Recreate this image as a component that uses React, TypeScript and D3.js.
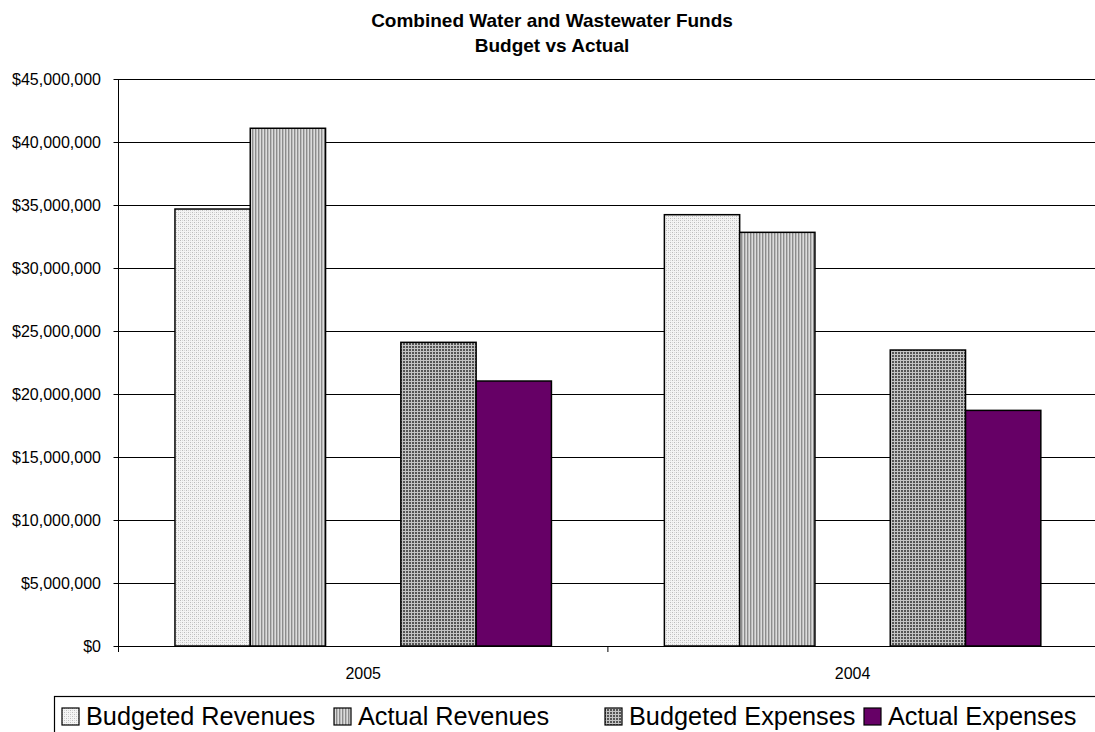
import React from "react";
import * as d3 from "d3";

const title1 = "Combined Water and Wastewater Funds";
const title2 = "Budget vs Actual";
const categories = ["2005", "2004"];
const seriesNames = ["Budgeted Revenues", "Actual Revenues", "", "Budgeted Expenses", "Actual Expenses"];
const budgetedRevenues = [34680000, 34230000];
const actualRevenues = [41090000, 32830000];
const blankSeries: (number | null)[] = [null, null];
const budgetedExpenses = [24100000, 23490000];
const actualExpenses = [21030000, 18700000];
const yTicks = [0, 5000000, 10000000, 15000000, 20000000, 25000000, 30000000, 35000000, 40000000, 45000000];

const seriesValues: (number | null)[][] = [budgetedRevenues, actualRevenues, blankSeries, budgetedExpenses, actualExpenses];
const seriesFills = ["url(#patBR)", "url(#patAR)", "none", "url(#patBE)", "#660066"];

const W = 1095;
const H = 732;
const plotLeft = 118.5;
const plotRight = 1097.3;
const plotTop = 79;
const plotBottom = 646;
const legendItemX = [62, 334, null, 605, 864];
const FONT = "'Liberation Sans', Arial, sans-serif";

export default function App() {
  const x0 = d3.scaleBand<string>().domain(categories).range([plotLeft, plotRight]).padding(0);
  const x1 = d3
    .scaleBand<string>()
    .domain(seriesNames.map((_, i) => String(i)))
    .range([0, x0.bandwidth()])
    .paddingInner(0)
    .paddingOuter(0.75);
  const y = d3.scaleLinear().domain([0, 45000000]).range([plotBottom, plotTop]);
  const fmt = (v: number) => "$" + d3.format(",.0f")(v);

  const catBoundaries = [...categories.map((c) => x0(c) as number), plotRight];

  return (
    <svg
      width={W}
      height={H}
      style={{ position: "absolute", left: 0, top: 0, background: "#fff" }}
      fontFamily={FONT}
    >
      <defs>
        <pattern id="patBR" patternUnits="userSpaceOnUse" width={4} height={4}>
          <rect width={4} height={4} fill="#f4f4f4" />
          <rect x={0} y={0} width={1} height={1} fill="#bcbcbc" />
          <rect x={2} y={2} width={1} height={1} fill="#bcbcbc" />
          <rect x={2} y={0} width={1} height={1} fill="#d8d8d8" />
          <rect x={0} y={2} width={1} height={1} fill="#d8d8d8" />
        </pattern>
        <pattern id="patAR" patternUnits="userSpaceOnUse" width={3} height={3}>
          <rect x={0} width={1} height={3} fill="#8c8c8c" />
          <rect x={1} width={1} height={3} fill="#bcbcbc" />
          <rect x={2} width={1} height={3} fill="#dcdcdc" />
        </pattern>
        <pattern id="patBE" patternUnits="userSpaceOnUse" width={3} height={3}>
          <rect width={3} height={3} fill="#c4c4c4" />
          <rect x={1} y={1} width={2} height={2} fill="#555555" />
        </pattern>
      </defs>

      <rect x={0} y={0} width={W} height={H} fill="#fff" />

      {/* title */}
      <text x={552} y={27} textAnchor="middle" fontSize={19} fontWeight="bold" fill="#000">
        {title1}
      </text>
      <text x={552} y={52} textAnchor="middle" fontSize={19} fontWeight="bold" fill="#000">
        {title2}
      </text>

      {/* gridlines */}
      {yTicks
        .filter((t) => t > 0)
        .map((t) => (
          <line
            key={"g" + t}
            x1={plotLeft}
            x2={W}
            y1={Math.round(y(t)) + 0.5}
            y2={Math.round(y(t)) + 0.5}
            stroke="#000"
            strokeWidth={1}
          />
        ))}

      {/* bars */}
      {seriesValues.map((vals, si) =>
        vals.map((v, ci) => {
          if (v === null) return null;
          const xs = (x0(categories[ci]) as number) + (x1(String(si)) as number);
          return (
            <rect
              key={`b${si}-${ci}`}
              x={xs}
              y={y(v)}
              width={x1.bandwidth()}
              height={plotBottom - y(v)}
              fill={seriesFills[si]}
              stroke="#000"
              strokeWidth={1.5}
            />
          );
        })
      )}

      {/* y axis */}
      <line x1={plotLeft} x2={plotLeft} y1={plotTop} y2={plotBottom} stroke="#000" strokeWidth={1} />
      {yTicks.map((t) => (
        <g key={"t" + t}>
          <line x1={plotLeft - 5} x2={plotLeft} y1={Math.round(y(t)) + 0.5} y2={Math.round(y(t)) + 0.5} stroke="#000" />
          <text x={101} y={y(t)} dy="0.36em" textAnchor="end" fontSize={16} fill="#000">
            {fmt(t)}
          </text>
        </g>
      ))}

      {/* x axis */}
      <line x1={plotLeft} x2={W} y1={plotBottom + 0.5} y2={plotBottom + 0.5} stroke="#000" strokeWidth={1} />
      {catBoundaries.map((b, i) => (
        <line key={"ct" + i} x1={b} x2={b} y1={plotBottom} y2={plotBottom + 6} stroke="#000" />
      ))}
      {categories.map((c) => (
        <text
          key={"cl" + c}
          x={(x0(c) as number) + x0.bandwidth() / 2}
          y={679}
          textAnchor="middle"
          fontSize={16}
          fill="#000"
        >
          {c}
        </text>
      ))}

      {/* legend */}
      <rect x={54.5} y={696.5} width={1100} height={60} fill="#fff" stroke="#000" strokeWidth={1.2} />
      {seriesNames.map((name, i) => {
        const lx = legendItemX[i];
        if (lx === null || name === "") return null;
        return (
          <g key={"l" + i}>
            <rect x={lx} y={708} width={17} height={17} fill={seriesFills[i]} stroke="#000" strokeWidth={1.2} />
            <text x={lx + 24} y={724.5} fontSize={25.3} fill="#000">
              {name}
            </text>
          </g>
        );
      })}
    </svg>
  );
}
